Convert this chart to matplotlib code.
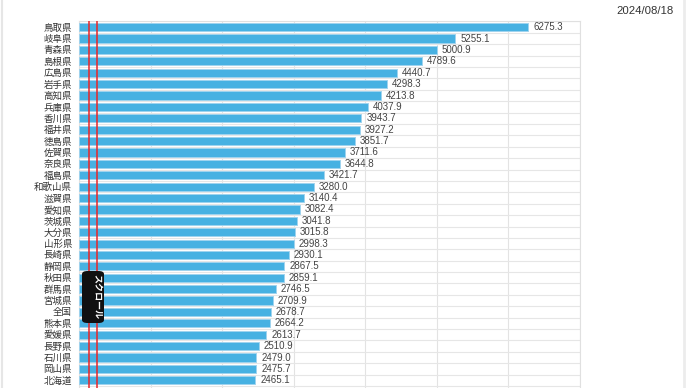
import matplotlib
matplotlib.use("Agg")
import matplotlib.pyplot as plt
from matplotlib.patches import FancyBboxPatch
from matplotlib.lines import Line2D

plt.rcParams['font.family'] = ['Noto Sans CJK JP', 'DejaVu Sans']

prefs = ['鳥取県', '岐阜県', '青森県', '島根県', '広島県', '岩手県', '高知県', '兵庫県',
         '香川県', '福井県', '徳島県', '佐賀県', '奈良県', '福島県', '和歌山県', '滋賀県',
         '愛知県', '茨城県', '大分県', '山形県', '長崎県', '静岡県', '秋田県', '群馬県',
         '宮城県', '全国', '熊本県', '愛媛県', '長野県', '石川県', '岡山県', '北海道']
values = [6275.3, 5255.1, 5000.9, 4789.6, 4440.7, 4298.3, 4213.8, 4037.9,
          3943.7, 3927.2, 3851.7, 3711.6, 3644.8, 3421.7, 3280.0, 3140.4,
          3082.4, 3041.8, 3015.8, 2998.3, 2930.1, 2867.5, 2859.1, 2746.5,
          2709.9, 2678.7, 2664.2, 2613.7, 2510.9, 2479.0, 2475.7, 2465.1]
ref_lines = [140, 245]
date_label = '2024/08/18'

W, H = 690, 388
fig = plt.figure(figsize=(W / 100, H / 100), dpi=100)

row_px = 11.39
top_px = 21.5
left_px, right_px = 79, 580
n = len(prefs)
ax_h = (n + 1) * row_px
ax = fig.add_axes([left_px / W, (H - top_px - ax_h) / H, (right_px - left_px) / W, ax_h / H])

ypos = list(range(n))
ax.barh(ypos, values, height=0.72, color='#47b1e2', edgecolor='#9fd3ee', linewidth=0.7, zorder=3)
for y, v in zip(ypos, values):
    ax.text(v + 70, y, f'{v:.1f}', va='center', ha='left', fontsize=7, color='#444444',
            family='Liberation Sans', zorder=4)

for x in ref_lines:
    ax.axvline(x, color='#e8262a', linewidth=1.1, zorder=5)

ax.set_xlim(0, 7000)
ax.set_ylim(n + 0.5, -0.5)
ax.set_yticks(ypos)
ax.set_yticklabels(prefs, fontsize=6.8, color='#333333')
ax.set_xticks(range(0, 7001, 1000))
ax.set_yticks([i + 0.5 for i in range(-1, n + 1)], minor=True)
ax.tick_params(axis='y', which='both', length=0, pad=5)
ax.tick_params(axis='x', labelbottom=False, length=0)
ax.grid(axis='x', which='major', color='#e3e3e3', linewidth=0.8, zorder=0)
ax.grid(axis='y', which='minor', color='#e6e6e6', linewidth=0.8, zorder=0)
for s in ['top', 'right', 'bottom', 'left']:
    ax.spines[s].set_color('#e0e0e0')
    ax.spines[s].set_linewidth(0.8)

fig.text(616 / W, 1 - 11 / H, date_label, fontsize=8.2, color='#333333', va='center', ha='left',
         family='Liberation Sans')

# overlay badge
box = FancyBboxPatch((82 / W, 1 - 323 / H), 22 / W, 52 / H,
                     boxstyle='round,pad=0,rounding_size=0.008',
                     transform=fig.transFigure, facecolor='#111111', edgecolor='none', zorder=10)
fig.patches.append(box)
fig.text(97 / W, 1 - 297 / H, 'スクロール', rotation=270, fontsize=6.5, color='white',
         ha='center', va='center', zorder=11, fontweight='bold')

# page edges
fig.add_artist(Line2D([1.5 / W, 1.5 / W], [0, 1], color='#e6e6e6', linewidth=1.5))
fig.add_artist(Line2D([684 / W, 684 / W], [0, 1], color='#ececec', linewidth=2))

fig.savefig('out.png', dpi=100)
